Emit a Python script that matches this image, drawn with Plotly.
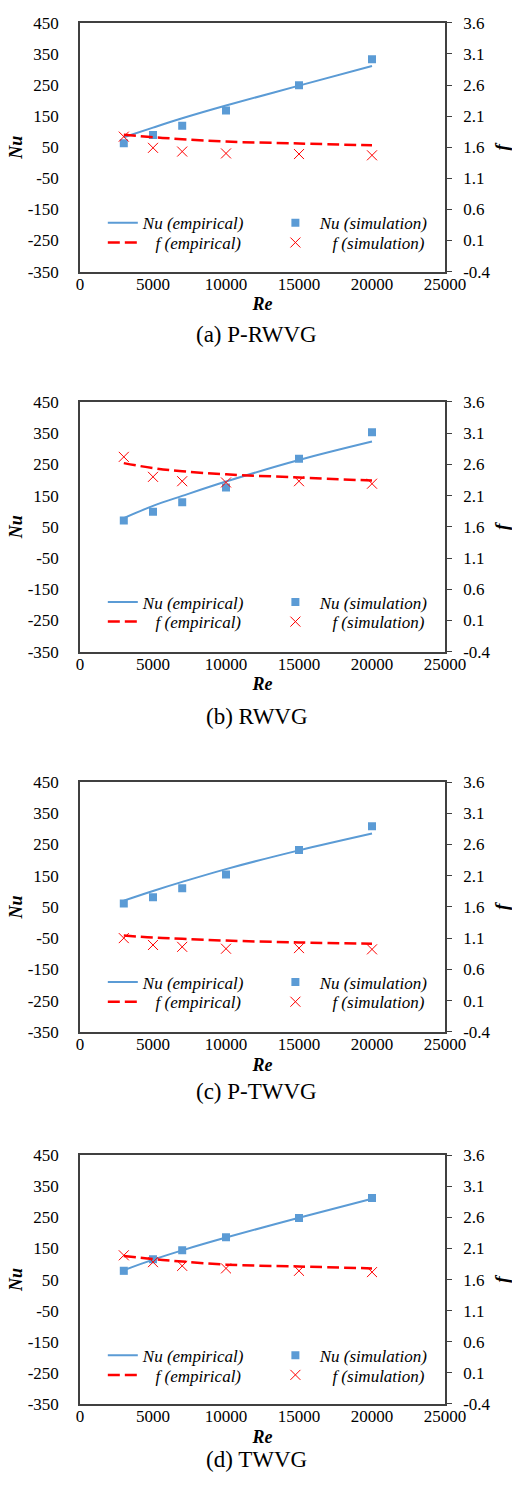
import plotly.graph_objects as go

# Canvas and plot-area geometry (pixels)
FIG_W, FIG_H = 512, 1488
PLOT_LEFT, PLOT_RIGHT = 80, 448
PANEL_TOPS = [14, 398, 783, 1161]
PANEL_BOTTOMS = [266, 651, 1036, 1413]
CAPTION_Y = [330, 717, 1096, 1469]

# Reynolds numbers at which both correlations and simulations are evaluated
re_points = [3000, 5000, 7000, 10000, 15000, 20000]

panel_captions = ["(a) P-RWVG", "(b) RWVG", "(c) P-TWVG", "(d) TWVG"]

# (a) P-RWVG
nu_emp_a = [82, 113, 143, 184, 248, 311]
nu_sim_a = [63, 89, 119, 168, 249, 333]
f_emp_a = [1.80, 1.76, 1.73, 1.69, 1.66, 1.63]
f_sim_a = [1.77, 1.59, 1.53, 1.50, 1.49, 1.47]

# (b) RWVG
nu_emp_b = [78, 117, 149, 195, 264, 323]
nu_sim_b = [70, 98, 129, 176, 268, 353]
f_emp_b = [2.62, 2.54, 2.49, 2.44, 2.39, 2.34]
f_sim_b = [2.72, 2.40, 2.33, 2.31, 2.33, 2.29]

# (c) P-TWVG
nu_emp_c = [70, 101, 130, 171, 231, 285]
nu_sim_c = [61, 81, 110, 154, 232, 308]
f_emp_c = [1.14, 1.11, 1.09, 1.06, 1.03, 1.01]
f_sim_c = [1.10, 0.99, 0.96, 0.93, 0.94, 0.92]

# (d) TWVG
nu_emp_d = [80, 114, 144, 185, 249, 310]
nu_sim_d = [78, 115, 144, 186, 248, 312]
f_emp_d = [1.98, 1.93, 1.89, 1.84, 1.81, 1.78]
f_sim_d = [1.99, 1.88, 1.82, 1.78, 1.74, 1.72]

panels = [
    (nu_emp_a, nu_sim_a, f_emp_a, f_sim_a),
    (nu_emp_b, nu_sim_b, f_emp_b, f_sim_b),
    (nu_emp_c, nu_sim_c, f_emp_c, f_sim_c),
    (nu_emp_d, nu_sim_d, f_emp_d, f_sim_d),
]

# Axis ticks
re_ticks = [0, 5000, 10000, 15000, 20000, 25000]
re_tick_labels = ["0", "5000", "10000", "15000", "20000", "25000"]
nu_ticks = [-350, -250, -150, -50, 50, 150, 250, 350, 450]
nu_tick_labels = ["-350", "-250", "-150", "-50", "50", "150", "250", "350", "450"]
f_ticks = [-0.4, 0.1, 0.6, 1.1, 1.6, 2.1, 2.6, 3.1, 3.6]
f_tick_labels = ["-0.4", "0.1", "0.6", "1.1", "1.6", "2.1", "2.6", "3.1", "3.6"]

BLUE = "#5B9BD5"
RED = "#FF0000"
FRAME = "#404040"
SERIF = "Liberation Serif"
NBSP = "\u00a0"


def py(px):
    """Convert a pixel row to paper y (margins are zero top/bottom)."""
    return (FIG_H - px) / FIG_H


def px_x(px):
    """Convert a pixel column to paper x."""
    return (px - PLOT_LEFT) / (PLOT_RIGHT - PLOT_LEFT)


fig = go.Figure()
layout = dict(
    width=FIG_W,
    height=FIG_H,
    margin=dict(l=PLOT_LEFT, r=FIG_W - PLOT_RIGHT, t=0, b=0),
    paper_bgcolor="white",
    plot_bgcolor="white",
    font=dict(family=SERIF, size=17, color="black"),
    showlegend=True,
    annotations=[],
)

legend_count = 0


def new_legend(x_px, y_px):
    """Create a one-entry legend centred vertically on y_px."""
    global legend_count
    legend_count += 1
    name = "legend" if legend_count == 1 else f"legend{legend_count}"
    layout[name] = dict(
        orientation="v", xref="paper", yref="paper",
        xanchor="left", yanchor="middle", x=px_x(x_px), y=py(y_px),
        bgcolor="rgba(0,0,0,0)", borderwidth=0,
        font=dict(family=SERIF, size=17, style="italic", color="black"),
    )
    return name


for i, (nu_emp, nu_sim, f_emp, f_sim) in enumerate(panels):
    xa = f"x{i + 1}" if i else "x"
    ya = f"y{2 * i + 1}" if i else "y"
    yb = f"y{2 * i + 2}"
    top, bottom = PANEL_TOPS[i], PANEL_BOTTOMS[i]
    row1 = top + 203
    row2 = top + 223

    fig.add_trace(go.Scatter(
        x=re_points, y=nu_emp, mode="lines", name="Nu (empirical)",
        line=dict(color=BLUE, width=2, shape="spline"),
        xaxis=xa, yaxis=ya, legend=new_legend(103, row1), hoverinfo="skip"))
    fig.add_trace(go.Scatter(
        x=re_points, y=nu_sim, mode="markers", name=NBSP + "Nu (simulation)",
        marker=dict(symbol="square", size=8, color=BLUE),
        xaxis=xa, yaxis=ya, legend=new_legend(277, row1), hoverinfo="skip"))
    fig.add_trace(go.Scatter(
        x=re_points, y=f_emp, mode="lines", name=NBSP * 3 + "f (empirical)",
        line=dict(color=RED, width=2.5, dash="12px,5px", shape="spline"),
        xaxis=xa, yaxis=yb, legend=new_legend(103, row2), hoverinfo="skip"))
    fig.add_trace(go.Scatter(
        x=re_points, y=f_sim, mode="markers", name=NBSP * 4 + "f (simulation)",
        marker=dict(symbol="x-thin", size=10, color=RED,
                    line=dict(color=RED, width=1)),
        xaxis=xa, yaxis=yb, legend=new_legend(277, row2), hoverinfo="skip"))

    domain = [py(bottom), py(top)]
    xkey = "xaxis" if i == 0 else f"xaxis{i + 1}"
    ykey = "yaxis" if i == 0 else f"yaxis{2 * i + 1}"
    y2key = f"yaxis{2 * i + 2}"

    layout[xkey] = dict(
        domain=[0, 1], anchor=ya, range=[0, 25000],
        tickvals=re_ticks, ticktext=re_tick_labels, ticks="",
        ticklabelstandoff=-4,
        showline=True, mirror=True, linecolor=FRAME, linewidth=1.5,
        showgrid=False, zeroline=False,
        title=dict(text="<b><i>Re</i></b>", standoff=5,
                   font=dict(size=18)),
    )
    layout[ykey] = dict(
        domain=domain, anchor=xa, range=[-350, 450],
        tickvals=nu_ticks, ticktext=nu_tick_labels, ticks="",
        ticklabelstandoff=16,
        showline=True, mirror=True, linecolor=FRAME, linewidth=1.5,
        showgrid=False, zeroline=False,
        title=dict(text="<b><i>Nu</i></b>", standoff=0,
                   font=dict(size=18)),
    )
    layout[y2key] = dict(
        domain=domain, anchor=xa, overlaying=ya, side="right",
        range=[-0.4, 3.6],
        tickvals=f_ticks, ticktext=f_tick_labels,
        ticks="outside", ticklen=5, tickcolor=FRAME, tickwidth=1,
        ticklabelstandoff=8,
        showline=True, linecolor=FRAME, linewidth=1.5,
        showgrid=False, zeroline=False,
        title=dict(text="<b><i>f</i></b>", standoff=8,
                   font=dict(size=19)),
    )

    layout["annotations"].append(dict(
        text=panel_captions[i], xref="paper", yref="paper",
        x=px_x(258), y=py(CAPTION_Y[i]), xanchor="center", yanchor="middle",
        showarrow=False, font=dict(family=SERIF, size=23, color="black"),
    ))

fig.update_layout(**layout)
fig.write_html("out.html")
